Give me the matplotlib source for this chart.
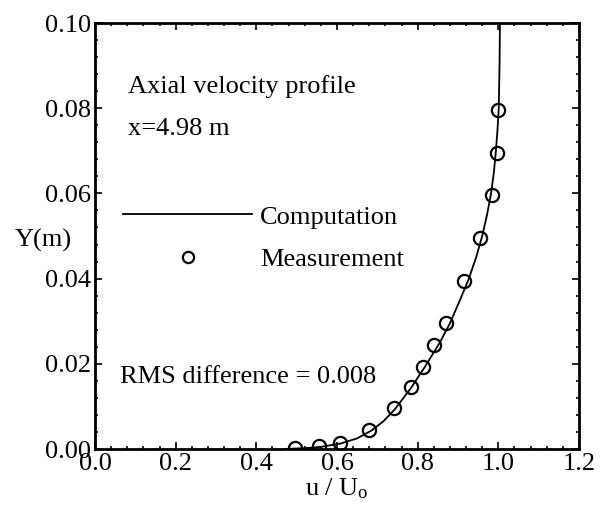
import matplotlib
matplotlib.use("Agg")
import matplotlib.pyplot as plt
from matplotlib.ticker import MultipleLocator, FormatStrFormatter

plt.rcParams['font.family'] = ['Liberation Serif', 'DejaVu Serif']
plt.rcParams['mathtext.fontset'] = 'custom'
plt.rcParams['mathtext.rm'] = 'Liberation Serif'
plt.rcParams['mathtext.it'] = 'Liberation Serif:italic'

# Computation (solid line)
comp_u = [0.47, 0.52, 0.56, 0.61, 0.65, 0.685, 0.715, 0.744, 0.784, 0.818,
          0.855, 0.880, 0.905, 0.925, 0.945, 0.960, 0.972, 0.982, 0.989, 0.994,
          0.998, 1.001, 1.003, 1.004]
comp_y = [0.0, 0.0002, 0.0005, 0.0013, 0.0025, 0.0043, 0.0065, 0.0094, 0.0144, 0.0193,
          0.025, 0.0295, 0.035, 0.0395, 0.045, 0.050, 0.055, 0.060, 0.065, 0.070,
          0.075, 0.080, 0.090, 0.100]

# Measurement (open circles)
meas_u = [0.496, 0.556, 0.607, 0.680, 0.742, 0.784, 0.812, 0.841, 0.870,
          0.916, 0.955, 0.985, 0.997, 1.000]
meas_y = [0.0002, 0.0007, 0.0015, 0.0045, 0.0096, 0.0146, 0.0193, 0.0244, 0.0295,
          0.0394, 0.0495, 0.0596, 0.0694, 0.0796]

fs = 19

fig = plt.figure(figsize=(6.0, 5.12), dpi=100)
ax = fig.add_axes([95/600, 1-449/512, 484/600, 426/512])

ax.plot(comp_u, comp_y, color='black', lw=1.3, label='Computation', zorder=2)
ax.plot(meas_u, meas_y, linestyle='none', marker='o', markersize=9.5,
        markerfacecolor='none', markeredgecolor='black', markeredgewidth=1.6,
        label='Measurement', zorder=3)

ax.set_xlim(0.0, 1.2)
ax.set_ylim(0.0, 0.10)
ax.xaxis.set_major_locator(MultipleLocator(0.2))
ax.xaxis.set_minor_locator(MultipleLocator(0.04))
ax.yaxis.set_major_locator(MultipleLocator(0.02))
ax.yaxis.set_minor_locator(MultipleLocator(0.004))
ax.xaxis.set_major_formatter(FormatStrFormatter('%.1f'))
ax.yaxis.set_major_formatter(FormatStrFormatter('%.2f'))

ax.tick_params(which='both', direction='in', top=True, right=True, width=1.2)
ax.tick_params(which='major', length=5, labelsize=fs)
ax.tick_params(which='minor', length=2.5)
ax.tick_params(axis='x', which='major', pad=3)
ax.tick_params(axis='y', which='major', pad=3)
for s in ax.spines.values():
    s.set_linewidth(2.0)

ax.set_xlabel(r'u / U$_{\rm o}$', fontsize=fs)
ax.xaxis.set_label_coords(0.5, -0.065)
ax.set_ylabel('Y(m)', fontsize=fs, rotation=0, ha='left', va='center')
ax.yaxis.set_label_coords(-0.165, 0.49)

ax.text(0.068, 0.835, 'Axial velocity profile', transform=ax.transAxes,
        fontsize=fs, ha='left', va='baseline')
ax.text(0.068, 0.738, 'x=4.98 m', transform=ax.transAxes,
        fontsize=fs, ha='left', va='baseline')
ax.text(0.052, 0.155, 'RMS difference = 0.008', transform=ax.transAxes,
        fontsize=fs, ha='left', va='baseline')

ax.legend(loc='center left', bbox_to_anchor=(0.058, 0.495), frameon=False,
          fontsize=fs, handlelength=4.9, handletextpad=0.3, labelspacing=0.72,
          borderpad=0, borderaxespad=0, markerscale=0.85)

fig.savefig('out.png', dpi=100)
